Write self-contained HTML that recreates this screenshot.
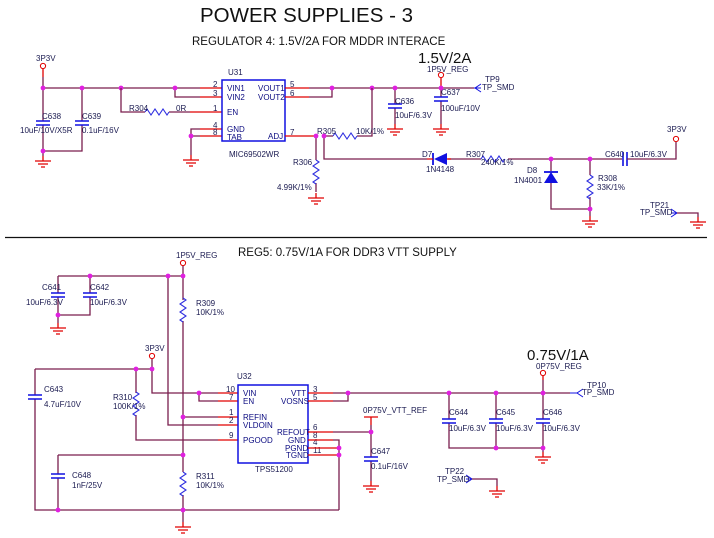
<!DOCTYPE html>
<html><head><meta charset="utf-8"><style>
html,body{margin:0;padding:0;background:#fff;}
svg{display:block;}
text{font-family:"Liberation Sans",sans-serif;fill:#1a1a50;}
.w{stroke:#7a1e4e;stroke-width:1.3;fill:none;}
.p{stroke:#e00000;stroke-width:1.3;fill:none;}
.b{stroke:#1010e0;stroke-width:1.5;fill:none;}
.s{font-size:8px;}
.pl{font-size:8px;fill:#0a0a80;}
</style></head><body>
<svg width="714" height="538" viewBox="0 0 714 538" xmlns="http://www.w3.org/2000/svg">
<defs>
<g id="gnd"><path d="M0,0 v5 M-8,5 h16 M-5,8 h10 M-2,11 h4" stroke="#e00000" stroke-width="1.3" fill="none"/></g>
<g id="res"><path d="M0,0 l2,-3 l4,6 l4,-6 l4,6 l4,-6 l4,6 l2,-3" stroke="#3030e0" stroke-width="1.1" fill="none"/></g>
<g id="cap"><path d="M-7,0 h14 M-7,4 h14" stroke="#1010e0" stroke-width="1.6" fill="none"/></g>
<g id="dot"><circle r="2.4" fill="#e020e0"/></g>
<g id="pwr"><circle r="2.6" fill="none" stroke="#e00000" stroke-width="1"/></g>
</defs>

<text x="200" y="22" style="font-size:20.5px;fill:#111">POWER SUPPLIES - 3</text>
<text x="192" y="45" style="font-size:11.5px;fill:#111">REGULATOR 4: 1.5V/2A FOR MDDR INTERACE</text>

<text x="36" y="61" class="s">3P3V</text>
<use href="#pwr" x="43" y="66"/>
<path class="p" d="M43,69 v8"/>
<path class="w" d="M43,77 v11 H200"/>
<path class="p" d="M200,88 H222 M200,97 H222 M190,112 H222 M200,129 H222 M200,136 H222"/>
<path class="w" d="M175,88 v9 h25"/>
<path class="w" d="M43,88 v33 M43,125 v26 h39 v-26 M82,88 v33"/>
<use href="#cap" x="43" y="121"/><use href="#cap" x="82" y="121"/>
<path class="w" d="M43,151 v5"/><use href="#gnd" x="43" y="156"/>
<text x="42" y="119" class="s">C638</text>
<text x="20" y="133" class="s">10uF/10V/X5R</text>
<text x="82" y="119" class="s">C639</text>
<text x="82" y="133" class="s">0.1uF/16V</text>
<use href="#dot" x="43" y="88"/><use href="#dot" x="82" y="88"/><use href="#dot" x="121" y="88"/><use href="#dot" x="175" y="88"/><use href="#dot" x="43" y="151"/>
<path class="w" d="M121,88 v24 h24 M169,112 h21"/>
<use href="#res" x="145" y="112"/>
<text x="129" y="111" class="s">R304</text>
<text x="176" y="111" class="s">0R</text>
<path class="w" d="M200,129 h-9 v26 M191,136 h9"/>
<use href="#gnd" x="191" y="155"/><use href="#dot" x="191" y="136"/>
<rect x="222" y="80" width="63" height="61" fill="none" stroke="#1010e0" stroke-width="1.5"/>
<text x="228" y="75" class="s">U31</text>
<text x="229" y="157" class="s">MIC69502WR</text>
<text x="227" y="91" class="pl">VIN1</text><text x="227" y="100" class="pl">VIN2</text>
<text x="227" y="115" class="pl">EN</text><text x="227" y="132" class="pl">GND</text><text x="227" y="140" class="pl">TAB</text>
<text x="258" y="91" class="pl">VOUT1</text><text x="258" y="100" class="pl">VOUT2</text><text x="268" y="139" class="pl">ADJ</text>
<text x="213" y="87" class="s">2</text><text x="213" y="96" class="s">3</text><text x="213" y="111" class="s">1</text><text x="213" y="128" class="s">4</text><text x="213" y="135" class="s">8</text>
<text x="290" y="87" class="s">5</text><text x="290" y="96" class="s">6</text><text x="290" y="135" class="s">7</text>
<path class="p" d="M285,88 H309 M285,97 H309 M285,136 H316"/>
<path class="w" d="M309,88 H474 M309,97 H332 V88"/>
<path class="w" d="M395,88 v16 M395,108 v16 M441,88 v9 M441,101 v23"/>
<use href="#cap" x="395" y="104"/><use href="#cap" x="441" y="97"/>
<use href="#gnd" x="395" y="124"/><use href="#gnd" x="441" y="124"/>
<text x="395" y="104" class="s">C636</text><text x="395" y="118" class="s">10uF/6.3V</text>
<text x="441" y="95" class="s">C637</text><text x="441" y="111" class="s">100uF/10V</text>
<text x="418" y="63" style="font-size:15px;fill:#111">1.5V/2A</text>
<text x="427" y="72" class="s">1P5V_REG</text>
<use href="#pwr" x="441" y="75"/><path class="p" d="M441,78 v10"/>
<path d="M474,88 h7 M481,84 l-6,4 l6,4" stroke="#1010e0" stroke-width="1" fill="none"/>
<text x="485" y="82" class="s">TP9</text><text x="482" y="90" class="s">TP_SMD</text>
<use href="#dot" x="332" y="88"/><use href="#dot" x="372" y="88"/><use href="#dot" x="395" y="88"/><use href="#dot" x="441" y="88"/>
<path class="w" d="M316,136 v24 M316,183 v9 M324,136 h9 M357,136 h15 V88 M324,136 v23 H427 M448,159 H481 M508,159 H622"/>
<use href="#res" x="333" y="136"/>
<use href="#res" x="316" y="160" transform="rotate(90 316 160)"/>
<use href="#gnd" x="316" y="193"/>
<text x="317" y="134" class="s">R305</text><text x="356" y="134" class="s">10K/1%</text>
<text x="293" y="165" class="s">R306</text><text x="277" y="190" class="s">4.99K/1%</text>
<use href="#dot" x="316" y="136"/><use href="#dot" x="324" y="136"/>
<path d="M433,153 v12" stroke="#1010e0" stroke-width="1.8"/>
<path d="M434,159 L447,153 V165 Z" fill="#1010e0"/>
<path class="p" d="M427,159 h6 M447,159 h4"/>
<text x="422" y="157" class="s">D7</text><text x="426" y="172" class="s">1N4148</text>
<use href="#res" x="481" y="159"/>
<text x="466" y="157" class="s">R307</text><text x="481" y="165" class="s">240K/1%</text>
<path class="w" d="M551,159 v12 M551,183 v26 H590 M590,159 v16 M590,197 v19"/>
<path d="M544,172 h14" stroke="#1010e0" stroke-width="1.8"/>
<path d="M551,172 L544,183 H558 Z" fill="#1010e0"/>
<text x="527" y="173" class="s">D8</text><text x="514" y="183" class="s">1N4001</text>
<use href="#res" x="590" y="175" transform="rotate(90 590 175)"/>
<use href="#gnd" x="590" y="216"/>
<text x="598" y="181" class="s">R308</text><text x="597" y="190" class="s">33K/1%</text>
<use href="#dot" x="551" y="159"/><use href="#dot" x="590" y="159"/><use href="#dot" x="590" y="209"/>
<path d="M623,152 v14 M627,152 v14" stroke="#1010e0" stroke-width="1.6"/>
<path class="w" d="M627,159 H676 V142"/>
<use href="#pwr" x="676" y="139"/>
<text x="667" y="132" class="s">3P3V</text>
<text x="605" y="157" class="s">C640</text><text x="630" y="157" class="s">10uF/6.3V</text>
<path d="M671,209 l6,4 l-6,4 M671,213 h6" stroke="#1010e0" stroke-width="1" fill="none"/>
<path class="w" d="M677,213 H698 V217"/><use href="#gnd" x="698" y="217"/>
<text x="650" y="208" class="s">TP21</text><text x="640" y="215" class="s">TP_SMD</text>

<path d="M5,237.5 H707" stroke="#111" stroke-width="1.2"/>

<text x="238" y="256" style="font-size:11.5px;fill:#111">REG5: 0.75V/1A FOR DDR3 VTT SUPPLY</text>
<text x="176" y="258" class="s">1P5V_REG</text>
<use href="#pwr" x="183" y="263"/>
<path class="w" d="M183,266 V300 M183,321 V472 M183,495 V522 M58,276 H183 M58,276 v17 M58,297 v18 h32 v-18 M90,276 v17 M58,315 v8"/>
<use href="#cap" x="58" y="293"/><use href="#cap" x="90" y="293"/>
<use href="#gnd" x="58" y="323"/>
<text x="42" y="290" class="s">C641</text><text x="26" y="305" class="s">10uF/6.3V</text>
<text x="90" y="290" class="s">C642</text><text x="90" y="305" class="s">10uF/6.3V</text>
<use href="#res" x="183" y="298" transform="rotate(90 183 298)"/>
<text x="196" y="306" class="s">R309</text><text x="196" y="315" class="s">10K/1%</text>
<path class="w" d="M168,276 V425 H218 M183,417 H218"/>
<text x="145" y="351" class="s">3P3V</text>
<use href="#pwr" x="152" y="356"/>
<path class="w" d="M152,359 V393 H218 M35,369 H152 M35,369 V395 M35,399 V510 H339 M199,393 v8 h19"/>
<use href="#cap" x="35" y="395"/>
<text x="44" y="392" class="s">C643</text><text x="44" y="407" class="s">4.7uF/10V</text>
<path class="w" d="M136,369 v24 M136,415 v25 H218"/>
<use href="#res" x="136" y="392" transform="rotate(90 136 392)"/>
<text x="113" y="400" class="s">R310</text><text x="113" y="409" class="s">100K/1%</text>
<path class="w" d="M58,455 H183 M58,455 v19 M58,478 v32"/>
<use href="#cap" x="58" y="474"/>
<text x="72" y="478" class="s">C648</text><text x="72" y="488" class="s">1nF/25V</text>
<use href="#res" x="183" y="472" transform="rotate(90 183 472)"/>
<text x="196" y="479" class="s">R311</text><text x="196" y="488" class="s">10K/1%</text>
<use href="#gnd" x="183" y="522"/>
<path class="p" d="M218,393 H238 M218,401 H238 M218,417 H238 M218,425 H238 M218,440 H238"/>
<rect x="238" y="385" width="70" height="78" fill="none" stroke="#1010e0" stroke-width="1.5"/>
<text x="237" y="379" class="s">U32</text>
<text x="255" y="472" class="s">TPS51200</text>
<text x="243" y="396" class="pl">VIN</text><text x="243" y="404" class="pl">EN</text>
<text x="243" y="420" class="pl">REFIN</text><text x="243" y="428" class="pl">VLDOIN</text><text x="243" y="443" class="pl">PGOOD</text>
<text x="291" y="396" class="pl">VTT</text><text x="281" y="404" class="pl">VOSNS</text>
<text x="277" y="435" class="pl">REFOUT</text><text x="288" y="443" class="pl">GND</text>
<text x="285" y="451" class="pl">PGND</text><text x="286" y="458" class="pl">TGND</text>
<text x="226" y="392" class="s">10</text><text x="229" y="400" class="s">7</text><text x="229" y="415" class="s">1</text><text x="229" y="423" class="s">2</text><text x="229" y="438" class="s">9</text>
<text x="313" y="392" class="s">3</text><text x="313" y="400" class="s">5</text><text x="313" y="430" class="s">6</text><text x="313" y="438" class="s">8</text><text x="313" y="445" class="s">4</text><text x="313" y="453" class="s">11</text>
<path class="p" d="M308,393 H333 M308,401 H333 M308,432 H333 M308,440 H333 M308,448 H339 M308,455 H339"/>
<path class="w" d="M333,393 H570 M333,401 H348 V393 M333,432 H371 M333,440 H339 V510"/>
<path class="p" d="M364,417 h14 M371,417 v8"/>
<path class="w" d="M371,425 v32 M371,461 v20"/>
<use href="#cap" x="371" y="457"/><use href="#gnd" x="371" y="481"/>
<text x="363" y="413" class="s">0P75V_VTT_REF</text>
<text x="371" y="454" class="s">C647</text><text x="371" y="469" class="s">0.1uF/16V</text>
<path class="w" d="M449,393 v26 M449,423 v25 H543 M496,393 v26 M496,423 v25 M543,380 v39 M543,423 v29"/>
<use href="#cap" x="449" y="419"/><use href="#cap" x="496" y="419"/><use href="#cap" x="543" y="419"/>
<use href="#gnd" x="543" y="452"/>
<text x="449" y="415" class="s">C644</text><text x="449" y="431" class="s">10uF/6.3V</text>
<text x="496" y="415" class="s">C645</text><text x="496" y="431" class="s">10uF/6.3V</text>
<text x="543" y="415" class="s">C646</text><text x="543" y="431" class="s">10uF/6.3V</text>
<text x="527" y="360" style="font-size:15px;fill:#111">0.75V/1A</text>
<text x="536" y="369" class="s">0P75V_REG</text>
<use href="#pwr" x="543" y="373"/><path class="p" d="M543,376 v4"/>
<path d="M570,393 h7 M583,389 l-6,4 l6,4" stroke="#1010e0" stroke-width="1" fill="none"/>
<text x="587" y="388" class="s">TP10</text><text x="582" y="395" class="s">TP_SMD</text>
<path d="M466,475 l6,4 l-6,4 M466,479 h6" stroke="#1010e0" stroke-width="1" fill="none"/>
<path class="w" d="M472,479 H497 V486"/><use href="#gnd" x="497" y="486"/>
<text x="445" y="474" class="s">TP22</text><text x="437" y="482" class="s">TP_SMD</text>
<use href="#dot" x="90" y="276"/><use href="#dot" x="168" y="276"/><use href="#dot" x="183" y="276"/><use href="#dot" x="58" y="315"/>
<use href="#dot" x="152" y="369"/><use href="#dot" x="136" y="369"/><use href="#dot" x="199" y="393"/>
<use href="#dot" x="183" y="417"/><use href="#dot" x="183" y="455"/><use href="#dot" x="183" y="510"/><use href="#dot" x="58" y="510"/>
<use href="#dot" x="339" y="448"/><use href="#dot" x="339" y="455"/>
<use href="#dot" x="348" y="393"/><use href="#dot" x="371" y="432"/>
<use href="#dot" x="449" y="393"/><use href="#dot" x="496" y="393"/><use href="#dot" x="543" y="393"/>
<use href="#dot" x="496" y="448"/><use href="#dot" x="543" y="448"/>
</svg>
</body></html>
